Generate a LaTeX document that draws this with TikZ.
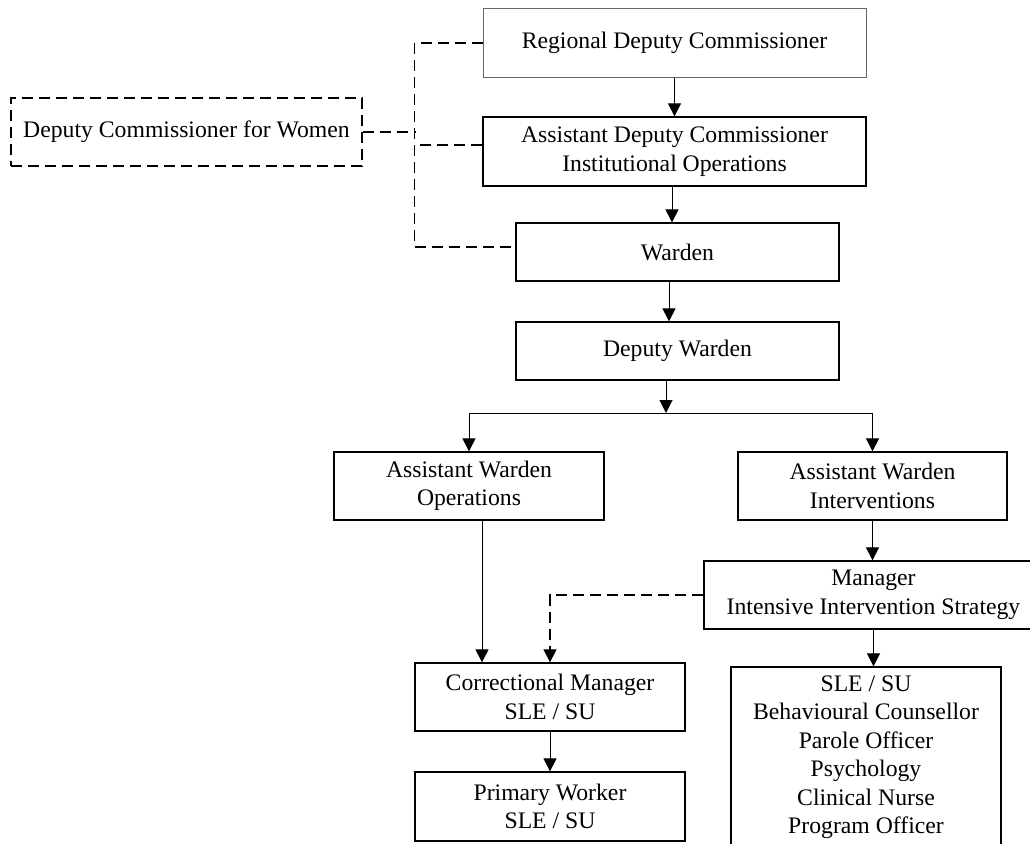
\documentclass[tikz,border=0pt]{standalone}
\usepackage{fontspec}
\setmainfont{Liberation Serif}
\usetikzlibrary{arrows.meta}
\begin{document}
\begin{tikzpicture}[x=1pt,y=-1pt,
  box/.style={draw=black, line width=1.3pt, rectangle, align=center, inner sep=0pt,
    font=\fontsize{23.7}{28.5}\selectfont},
  conn/.style={draw=black, line width=1pt},
  arr/.style={conn, -{Triangle[width=13pt,length=13pt]}},
  dline/.style={draw=black, line width=1.2pt, dash pattern=on 11pt off 6pt},
]
\useasboundingbox (0,0) rectangle (1030,843);
\clip (0,0) rectangle (1030,843);

\node[box, draw=black!60, line width=1pt, minimum width=383pt, minimum height=68pt] (rdc) at (674.5,43) {Regional Deputy Commissioner};
\node[box, dline, minimum width=351pt, minimum height=68pt] (dcw) at (186.5,132) {Deputy Commissioner for Women};
\node[box, minimum width=383pt, minimum height=69pt] (adc) at (674.5,151.5) {Assistant Deputy Commissioner\\Institutional Operations};
\node[box, minimum width=323pt, minimum height=58pt] (warden) at (677.5,252) {Warden};
\node[box, minimum width=323pt, minimum height=58pt] (dw) at (677.5,351) {Deputy Warden};
\node[box, minimum width=270pt, minimum height=68pt] (awo) at (469,486) {Assistant Warden\\Operations};
\node[box, minimum width=269pt, minimum height=68pt] (awi) at (872.5,486) {Assistant Warden\\Interventions};
\node[box, minimum width=339pt, minimum height=68pt] (mgr) at (873.5,595) {Manager\\Intensive Intervention Strategy};
\node[box, minimum width=270pt, minimum height=180pt] (sle) at (866,757) {SLE / SU\\Behavioural Counsellor\\Parole Officer\\Psychology\\Clinical Nurse\\Program Officer};
\node[box, minimum width=270pt, minimum height=68pt] (cm) at (550,697) {Correctional Manager\\SLE / SU};
\node[box, minimum width=270pt, minimum height=69pt] (pw) at (550,806.5) {Primary Worker\\SLE / SU};

% solid reporting lines
\draw[arr] (rdc.south) -- (adc.north);
\draw[arr] ([xshift=-2.5pt]adc.south) -- ([xshift=-2.5pt]adc.south |- warden.north);
\draw[arr] ([xshift=-8.5pt]warden.south) -- ([xshift=-8.5pt]warden.south |- dw.north);
\coordinate (br) at (666,413);
\draw[arr] ([xshift=-11.5pt]dw.south) -- (br);
\draw[arr] (br) -| (awo.north);
\draw[arr] (br) -| (awi.north);
\draw[arr] ([xshift=13pt]awo.south) -- ([xshift=13pt]awo.south |- cm.north);
\draw[arr] (awi.south) -- (awi.south |- mgr.north);
\draw[arr] (mgr.south) -- (mgr.south |- sle.north);
\draw[arr] (cm.south) -- (pw.north);

% dashed lines
\draw[dline, -{Triangle[width=13pt,length=13pt]}] (mgr.west) -| (cm.north);
\draw[dline] (rdc.west) -- ++(-68,0) |- ([yshift=5pt]warden.west);
\draw[dline] ([yshift=6.5pt]adc.west) -- ++(-68,0);
\draw[dline] (dcw.east) -- ++(53,0);
\end{tikzpicture}
\end{document}
